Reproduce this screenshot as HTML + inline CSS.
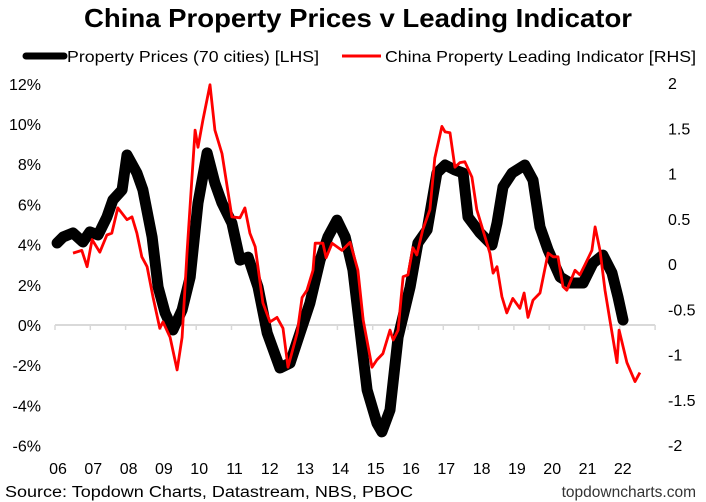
<!DOCTYPE html>
<html><head><meta charset="utf-8"><style>
html,body{margin:0;padding:0;background:#fff;}
svg{display:block;font-family:"Liberation Sans",Arial,sans-serif;}
</style></head><body>
<svg id="chart" width="706" height="502" viewBox="0 0 706 502" xmlns="http://www.w3.org/2000/svg">
<text x="84" y="27" font-size="26" font-weight="bold" textLength="548" lengthAdjust="spacingAndGlyphs">China Property Prices v Leading Indicator</text>
<g>
<line x1="26" y1="56" x2="64" y2="56" stroke="#000" stroke-width="7" stroke-linecap="round"/>
<text x="67" y="62" font-size="16" textLength="252" lengthAdjust="spacingAndGlyphs">Property Prices (70 cities) [LHS]</text>
<line x1="342" y1="56" x2="381" y2="56" stroke="#f00" stroke-width="3"/>
<text x="385" y="62" font-size="16" textLength="311" lengthAdjust="spacingAndGlyphs">China Property Leading Indicator [RHS]</text>
</g>
<g id="axes"></g>
<g id="series"></g>
<text x="5" y="497" font-size="15.5" textLength="408" lengthAdjust="spacingAndGlyphs">Source: Topdown Charts, Datastream, NBS, PBOC</text>
<text x="696" y="497" font-size="15.5" fill="#333" text-anchor="end">topdowncharts.com</text>
</svg>
<script>
const blackYears=[2006.06,2006.23,2006.51,2006.79,2006.99,2007.22,2007.47,2007.64,2007.90,2008.04,2008.32,2008.49,2008.75,2008.92,2009.12,2009.34,2009.60,2009.83,2010.05,2010.31,2010.53,2010.73,2011.01,2011.24,2011.47,2011.75,2012.01,2012.37,2012.66,2012.94,2013.22,2013.51,2013.73,2013.99,2014.22,2014.44,2014.64,2014.84,2015.12,2015.26,2015.49,2015.72,2016.06,2016.28,2016.54,2016.82,2017.05,2017.33,2017.56,2017.70,2018.04,2018.38,2018.52,2018.69,2018.95,2019.31,2019.54,2019.74,2019.97,2020.31,2020.59,2020.96,2021.24,2021.52,2021.78,2021.95,2022.09];
const blackValues=[4.08,4.38,4.58,4.13,4.63,4.48,5.37,6.22,6.72,8.46,7.56,6.72,4.38,1.89,0.60,-0.25,0.75,2.39,6.07,8.56,7.06,6.07,5.07,3.23,3.38,1.89,-0.40,-2.14,-1.89,-0.40,1.09,3.23,4.38,5.22,4.38,2.74,-0.25,-3.23,-4.88,-5.32,-4.23,-0.60,1.89,4.08,4.73,7.56,7.96,7.71,7.56,5.37,4.58,3.98,5.07,6.87,7.56,7.96,7.21,4.88,3.73,2.39,2.09,2.09,3.08,3.48,2.59,1.39,0.25];
const redYears=[2006.51,2006.76,2006.91,2007.05,2007.27,2007.47,2007.61,2007.78,2008.04,2008.18,2008.32,2008.46,2008.61,2008.78,2008.97,2009.06,2009.26,2009.46,2009.60,2009.74,2009.97,2010.05,2010.19,2010.39,2010.53,2010.73,2011.01,2011.24,2011.38,2011.52,2011.67,2011.89,2012.09,2012.29,2012.46,2012.60,2012.86,2013.00,2013.14,2013.31,2013.37,2013.59,2013.68,2013.85,2014.13,2014.36,2014.58,2014.73,2014.98,2015.12,2015.29,2015.49,2015.58,2015.72,2015.86,2016.00,2016.14,2016.25,2016.42,2016.62,2016.76,2016.96,2017.05,2017.19,2017.33,2017.47,2017.61,2017.81,2017.95,2018.12,2018.32,2018.41,2018.52,2018.66,2018.80,2018.97,2019.17,2019.29,2019.40,2019.54,2019.74,2019.97,2020.11,2020.25,2020.39,2020.50,2020.73,2020.87,2021.01,2021.21,2021.30,2021.44,2021.58,2021.72,2021.92,2021.98,2022.20,2022.43,2022.57];
const redValues=[0.12,0.15,-0.03,0.27,0.13,0.32,0.34,0.62,0.49,0.52,0.34,0.08,-0.03,-0.37,-0.71,-0.64,-0.81,-1.17,-0.81,0.12,1.48,1.29,1.59,1.98,1.48,1.22,0.52,0.51,0.62,0.34,0.19,-0.43,-0.64,-0.59,-0.71,-1.14,-0.76,-0.37,-0.29,-0.07,0.23,0.23,0.07,0.23,0.15,0.24,-0.07,-0.62,-1.14,-1.06,-0.99,-0.73,-0.84,-0.73,-0.14,-0.12,0.18,0.10,0.38,0.60,1.17,1.52,1.46,1.45,1.07,1.12,1.13,0.96,0.60,0.38,0.12,-0.10,-0.03,-0.36,-0.54,-0.38,-0.49,-0.32,-0.59,-0.40,-0.32,0.12,0.08,0.08,-0.25,-0.29,-0.07,-0.12,-0.01,0.15,0.41,0.15,-0.29,-0.62,-1.09,-0.73,-1.09,-1.30,-1.20];
const yearLabels=["06","07","08","09","10","11","12","13","14","15","16","17","18","19","20","21","22"];
const leftTicks=[12,10,8,6,4,2,0,-2,-4,-6];
const rightTicks=[2,1.5,1,0.5,0,-0.5,-1,-1.5,-2];

const NS="http://www.w3.org/2000/svg";
const X0=55, YW=35.3, START=2006;
const xs=y=>X0+(y-START)*YW;
const yl=v=>325-v*20.1;
const yr=v=>264-v*90.5;
function mk(tag,attrs,parent){const e=document.createElementNS(NS,tag);for(const k in attrs)e.setAttribute(k,attrs[k]);parent.appendChild(e);return e;}
const axes=document.getElementById('axes'), series=document.getElementById('series');

const zl=mk('line',{x1:xs(2006),y1:yl(0),x2:xs(2023),y2:yl(0),stroke:'#d9d9d9','stroke-width':2},axes);


yearLabels.forEach((lab,i)=>{
  const t=mk('line',{x1:xs(START+i),y1:yl(0),x2:xs(START+i),y2:yl(0)+5,stroke:'#d9d9d9','stroke-width':1.5},axes);
  
  
  const tx=mk('text',{x:xs(START+i)+3,y:474,'font-size':16,'text-anchor':'middle'},axes);
  tx.textContent=lab;
  
  
});
const t2=mk('line',{x1:xs(2023),y1:yl(0),x2:xs(2023),y2:yl(0)+5,stroke:'#d9d9d9','stroke-width':1.5},axes);


leftTicks.forEach(v=>{
  const tx=mk('text',{x:41,y:yl(v)+6,'font-size':16,'text-anchor':'end'},axes);
  tx.textContent=v+'%';
  
  
});
rightTicks.forEach(v=>{
  const tx=mk('text',{x:668,y:yr(v)+6,'font-size':16},axes);
  tx.textContent=String(v);
  
  
});
const bp=mk('polyline',{points:blackYears.map((y,i)=>xs(y).toFixed(1)+','+yl(blackValues[i]).toFixed(1)).join(' '),fill:'none',stroke:'#000','stroke-width':11,'stroke-linejoin':'round','stroke-linecap':'round'},series);


const rp=mk('polyline',{points:redYears.map((y,i)=>xs(y).toFixed(1)+','+yr(redValues[i]).toFixed(1)).join(' '),fill:'none',stroke:'#f00','stroke-width':2.8,'stroke-linejoin':'round'},series);


</script>
</body></html>
